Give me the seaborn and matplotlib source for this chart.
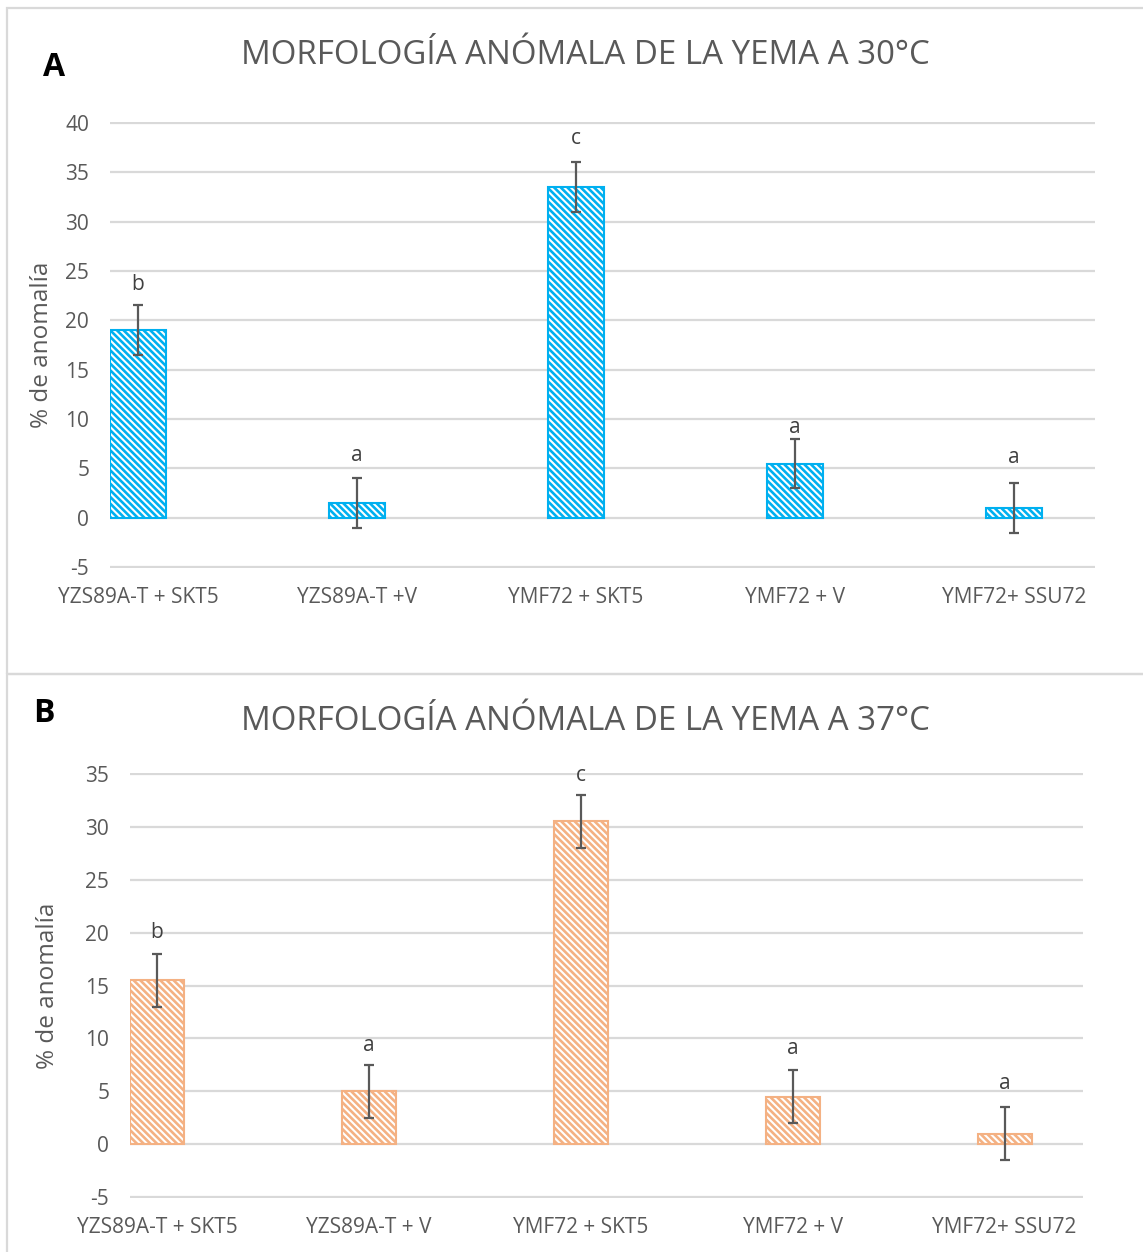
import numpy as np
import matplotlib
matplotlib.use("Agg")
import matplotlib.pyplot as plt
import seaborn as sns
from matplotlib.patches import Rectangle

# Data
cats_a = ["YZS89A-T + SKT5", "YZS89A-T +V", "YMF72 + SKT5", "YMF72 + V", "YMF72+ SSU72"]
vals_a = [19.0, 1.5, 33.5, 5.5, 1.0]
err_a = [2.5, 2.5, 2.5, 2.5, 2.5]
sig_a = ["b", "a", "c", "a", "a"]
sig_y_a = [23.6, 6.3, 38.4, 9.1, 6.1]

cats_b = ["YZS89A-T + SKT5", "YZS89A-T + V", "YMF72 + SKT5", "YMF72 + V", "YMF72+ SSU72"]
vals_b = [15.5, 5.0, 30.5, 4.5, 1.0]
err_b = [2.5, 2.5, 2.5, 2.5, 2.5]
sig_b = ["b", "a", "c", "a", "a"]
sig_y_b = [20.0, 9.3, 34.8, 9.0, 5.7]

sns.set_style("white")
plt.rcParams["font.family"] = ["Open Sans", "DejaVu Sans"]
plt.rcParams["hatch.linewidth"] = 1.9

W, H = 1143, 1252
fig = plt.figure(figsize=(W / 100, H / 100), dpi=100)

grey = "#595959"
grid = "#D9D9D9"

# panel frames
fig.patches.append(Rectangle((7 / W, 1 - 674 / H), 1.2, 666 / H, transform=fig.transFigure,
                             fill=False, edgecolor=grid, lw=1.6))
fig.patches.append(Rectangle((7 / W, -0.2), 1.2, 1 - 674 / H + 0.2, transform=fig.transFigure,
                             fill=False, edgecolor=grid, lw=1.6))


def panel(rect, cats, vals, errs, sigs, sig_y, color, ylim, yticks, title, letter, letter_xy, title_y, ylabel_x):
    ax = fig.add_axes(rect)
    sns.barplot(x=cats, y=vals, color="white", width=0.255, ax=ax, saturation=1)
    for p in ax.patches:
        p.set_edgecolor(color)
        p.set_facecolor("white")
        p.set_hatch("\\\\\\\\\\")
        p.set_linewidth(1.5)
    x = np.arange(len(cats))
    ax.errorbar(x, vals, yerr=errs, fmt="none", ecolor=grey, elinewidth=1.6,
                capsize=3.8, capthick=1.6, zorder=5)
    for xi, yy, s in zip(x, sig_y, sigs):
        ax.text(xi, yy, s, ha="center", va="center", fontsize=15, color="#404040")
    ax.set_xlim(-0.128, 4.37)
    ax.set_ylim(ylim[0] - 0.08, ylim[1] + 0.08)
    ax.set_yticks(yticks)
    ax.set_yticklabels([str(t) for t in yticks])
    for t in yticks:
        ax.axhline(t, color=grid, lw=1.6, zorder=0)
    for s in ax.spines.values():
        s.set_visible(False)
    ax.tick_params(axis="both", length=0, labelsize=15, colors=grey)
    ax.tick_params(axis="x", pad=14)
    ax.tick_params(axis="y", pad=15)
    ax.set_axisbelow(True)
    fig.text(ylabel_x, rect[1] + rect[3] * 0.5, "% de anomalía", rotation=90,
             ha="center", va="center", fontsize=17.5, color=grey)
    fig.text(0.5118, title_y, title, ha="center", va="center", fontsize=23.8, color=grey)
    fig.text(letter_xy[0], letter_xy[1], letter, ha="center", va="center", fontsize=23,
             fontweight="bold", color="black")
    return ax


panel([110 / W, 1 - 568 / H, 985 / W, 446 / H], cats_a, vals_a, err_a, sig_a, sig_y_a, "#00B0F0",
      (-5, 40), list(range(-5, 41, 5)), "MORFOLOGÍA ANÓMALA DE LA YEMA A 30°C", "A",
      (54 / W, 1 - 68 / H), 1 - 55 / H, 42 / W)

panel([130 / W, 1 - 1198 / H, 953 / W, 425 / H], cats_b, vals_b, err_b, sig_b, sig_y_b, "#F4B183",
      (-5, 35), list(range(-5, 36, 5)), "MORFOLOGÍA ANÓMALA DE LA YEMA A 37°C", "B",
      (44 / W, 1 - 714 / H), 1 - 721 / H, 48 / W)

fig.savefig("out.png", dpi=100)
